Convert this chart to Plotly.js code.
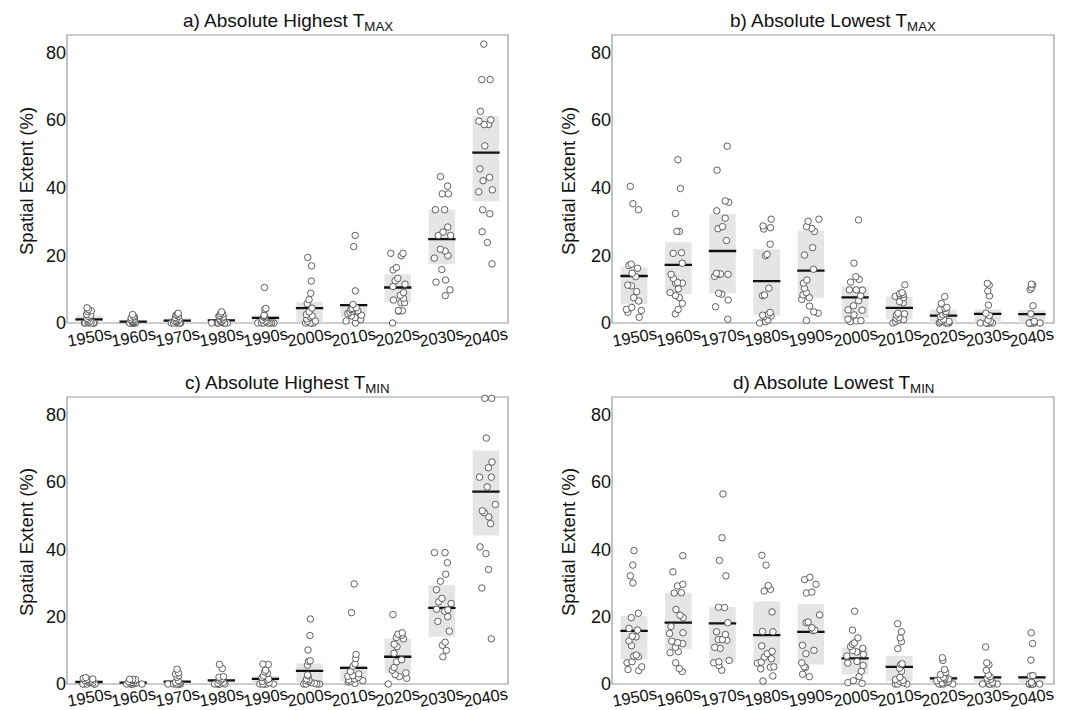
<!DOCTYPE html>
<html><head><meta charset="utf-8">
<script src="https://cdn.plot.ly/plotly-3.0.1.min.js"></script>
<style>html,body{margin:0;padding:0;background:#fff}#chart{width:1084px;height:710px}</style>
</head><body><div id="chart"></div>
<script>
const decades = ['1950s','1960s','1970s','1980s','1990s','2000s','2010s','2020s','2030s','2040s'];
const panelTitles = ['a) Absolute Highest T<sub>MAX</sub>','b) Absolute Lowest T<sub>MAX</sub>','c) Absolute Highest T<sub>MIN</sub>','d) Absolute Lowest T<sub>MIN</sub>'];
const yTitle = 'Spatial Extent (%)';
const yTicks = [0,20,40,60,80];

// a) Absolute Highest TMAX: model values per decade
const aPoints = [
 [4.5,4.0,3.6,3.4,2.6,2.3,2.0,1.8,1.4,1.0,0.6,0.3,0,0,0,0,0,0],
 [2.5,2.0,1.8,1.5,1.2,1.0,0.8,0.6,0.5,0.3,0.2,0,0,0,0,0,0],
 [2.9,2.5,2.3,2.0,1.6,1.3,1.1,0.8,0.6,0.4,0.2,0,0,0,0,0,0],
 [3.3,2.8,2.6,2.2,2.0,1.8,1.5,1.2,1.0,0.8,0.5,0.3,0,0,0,0,0,0],
 [10.5,4.3,4.0,2.3,2.2,2.0,1.8,1.5,1.0,0.6,0.4,0,0,0,0,0,0,0],
 [19.4,16.9,12.4,8.8,6.9,5.7,4.4,3.3,2.5,2.1,1.8,1.2,0.6,0.5,0,0,0,0],
 [25.9,22.6,9.5,5.5,4.5,4.3,4.2,4.0,3.6,3.5,3.2,2.8,2.3,2.1,1.6,1.0,0.6,0],
 [20.6,20.6,19.9,16.4,15.7,13.2,12.5,11.5,10.8,9.0,8.2,7.3,6.8,6.0,6.0,3.7,3.6,3.5,0],
 [43.3,40.5,38.2,38.2,33.5,33.5,28.4,26.9,25.9,25.9,21.8,21.3,19.9,19.2,15.8,12.7,12.1,9.8,8.1],
 [82.5,72,72,62.6,60.1,59.7,58.7,58.7,52.4,45.6,43.1,42.1,39.4,38.8,33.5,32.3,27,23.8,17.5]
];
const aLow  = [0,0,0,0,0,0.2,1.8,6.2,17.4,36.0];
const aHigh = [2.2,0.7,1.3,1.2,2.2,6.2,5.7,14.4,33.5,61.2];
const aMid  = [1.1,0.4,0.7,0.8,1.5,4.4,5.3,10.5,24.8,50.4];

// b) Absolute Lowest TMAX
const bPoints = [
 [40.4,35.3,33.5,17.4,17.0,16.2,14.7,13.7,11.2,11.0,9.3,7.5,6.5,4.6,4.0,3.7,3.2,1.7],
 [48.3,39.8,32.4,27.1,27.1,20.8,20.6,17.7,14.4,13.2,12.0,11.8,11.8,10.1,9.0,8.1,7.5,5.8,4.0,2.7],
 [52.3,45.2,36.1,35.7,33.2,31.0,28.5,27.9,24.4,14.7,14.5,14.4,14.4,13.8,8.8,8.5,6.8,4.8,1.1],
 [30.7,28.7,28.2,27.8,23.3,20.3,19.9,10.3,8.3,8.1,3.1,2.6,2.3,2.1,1.9,0.9,0.4,0],
 [30.7,30.1,28.5,28.0,27.1,22.3,20.1,15.9,12.7,11.8,10.3,9.0,8.3,7.5,7.0,5.0,3.3,2.9,0.8],
 [30.5,17.7,13.7,12.9,12.1,9.8,9.8,9.7,8.1,6.6,5.1,3.9,3.8,2.4,1.1,0.7,0.6,0.4],
 [11.3,9.0,8.7,8.4,8.2,7.9,7.5,6.3,6.0,2.9,2.7,2.4,1.7,1.4,1.0,0.9,0.4,0],
 [7.8,5.8,4.6,4.3,3.9,3.4,2.9,2.4,1.9,1.1,0.7,0.5,0.3,0,0,0,0],
 [11.7,11.2,9.5,8.0,5.3,2.9,2.2,0.9,0.5,0,0,0,0,0,0],
 [11.5,11.3,10.4,9.9,5.1,2.7,0.5,0,0,0,0,0,0]
];
const bLow  = [5.6,8.6,8.8,2.2,7.5,1.4,1.1,0,0,0];
const bHigh = [16.5,23.9,32.2,21.8,27.3,10.8,7.8,4.0,4.0,3.8];
const bMid  = [13.9,17.2,21.3,12.4,15.5,7.6,4.5,2.2,2.7,2.6];

// c) Absolute Highest TMIN
const cPoints = [
 [1.9,1.7,1.5,1.4,1.2,1.0,0.9,0.7,0.5,0.3,0,0,0,0,0],
 [1.4,1.4,1.3,1.2,1.0,0.7,0.5,0.4,0.2,0,0,0,0,0],
 [4.4,3.3,3.0,2.5,2.0,1.0,0.5,0,0,0,0,0,0],
 [5.8,4.6,2.2,2.0,1.6,1.2,0.9,0.5,0.2,0,0,0,0,0],
 [5.9,5.8,4.1,3.6,3.2,2.4,1.9,1.5,1.2,0.8,0.4,0,0,0,0,0],
 [19.3,14.4,10.1,6.9,6.7,5.6,2.7,2.4,1.5,1.2,1.0,0.8,0.4,0.2,0,0,0,0],
 [29.7,21.2,8.8,7.6,6.0,5.3,3.7,3.0,2.5,2.3,2.0,1.5,1.2,1.0,0.8,0.6,0.2],
 [20.6,15.2,14.8,14.5,13.8,13.4,11.8,11.1,9.1,7.2,6.6,4.9,4.1,3.3,2.8,2.2,1.7,0],
 [39.0,39.0,36.0,32.6,30.5,28.0,25.4,24.4,23.9,22.2,22.0,21.6,20.0,18.6,15.7,12.4,11.5,10.0,8.1],
 [84.8,84.8,73.0,65.9,64.2,61.4,61.4,58.5,53.3,51.4,50.9,49.6,47.6,40.7,38.7,34.0,28.5,13.4]
];
const cLow  = [0,0,0,0,0,0.5,0.9,3.2,14.0,44.1];
const cHigh = [1.0,0.6,1.0,1.4,2.4,6.1,5.4,13.5,29.3,69.3];
const cMid  = [0.6,0.4,0.7,1.1,1.5,3.9,4.8,8.1,22.6,57.1];

// d) Absolute Lowest TMIN
const dPoints = [
 [39.6,35.3,32.1,30.0,21.0,19.7,16.5,16.0,14.2,14.0,12.8,11.4,8.6,8.3,8.1,6.6,6.3,5.1,4.3,4.0],
 [38.1,33.3,29.6,29.1,27.1,27.0,22.1,20.4,19.7,17.1,15.2,15.0,12.7,12.3,12.0,10.9,9.6,9.3,6.3,4.6,3.7],
 [56.4,43.4,36.7,32.1,22.8,22.7,18.2,15.5,14.7,13.2,13.2,13.0,10.9,10.6,7.0,6.6,6.3,5.5,4.1],
 [38.2,35.3,29.2,28.1,27.6,21.4,15.6,15.5,11.3,9.7,9.0,8.0,7.5,6.5,6.2,5.1,5.0,4.5,2.4,0.9],
 [31.7,31.0,29.6,27.3,27.0,20.5,18.4,18.2,16.7,16.0,15.8,11.5,10.0,9.0,6.3,5.1,4.9,2.9,2.2],
 [21.6,16.0,13.7,12.2,11.8,11.1,10.6,10.0,9.5,8.8,8.3,6.7,6.2,5.5,3.8,2.2,1.0,0.4,0.2],
 [17.9,15.5,13.7,12.6,10.5,6.0,5.8,4.7,3.8,2.0,1.3,1.1,0.8,0.4,0,0,0],
 [7.8,7.0,4.3,3.4,2.8,2.0,1.8,1.6,1.5,1.3,1.0,0.8,0.5,0.3,0,0,0,0],
 [11.0,6.3,5.7,4.1,2.7,2.2,1.7,1.4,1.0,0.5,0,0,0,0,0],
 [15.2,12.0,7.1,2.5,2.4,0.5,0,0,0,0,0,0]
];
const dLow  = [7.3,10.4,6.6,5.8,5.8,2.9,0.8,0,0,0];
const dHigh = [20.2,27.1,22.8,24.5,23.7,10.8,8.3,2.2,2.3,2.4];
const dMid  = [15.8,18.2,18.0,14.5,15.5,7.6,5.1,1.7,2.0,2.0];

const FONT = 'Liberation Sans, Arial, sans-serif';
const panels = [
  {pts:aPoints, lo:aLow, hi:aHigh, mid:aMid, x:'x',  y:'y'},
  {pts:bPoints, lo:bLow, hi:bHigh, mid:bMid, x:'x2', y:'y2'},
  {pts:cPoints, lo:cLow, hi:cHigh, mid:cMid, x:'x3', y:'y3'},
  {pts:dPoints, lo:dLow, hi:dHigh, mid:dMid, x:'x4', y:'y4'}
];
const LINE_HALF = 0.34; // half thickness of the mean line, data units

const traces = [];
panels.forEach(p => {
  traces.push({type:'bar', x:decades, base:p.lo, y:p.hi.map((h,i)=>h-p.lo[i]), width:0.6,
    marker:{color:'#e5e5e5', line:{width:0}}, xaxis:p.x, yaxis:p.y, hoverinfo:'skip', showlegend:false});
  traces.push({type:'bar', x:decades, base:p.mid.map(m=>m-LINE_HALF), y:p.mid.map(()=>2*LINE_HALF), width:0.62,
    marker:{color:'#111', line:{width:0}}, xaxis:p.x, yaxis:p.y, hoverinfo:'skip', showlegend:false});
  const xs = [], ys = [];
  p.pts.forEach((arr,i) => arr.forEach(v => { xs.push(decades[i]); ys.push(v); }));
  traces.push({type:'box', x:xs, y:ys, boxpoints:'all', jitter:0.75, pointpos:0, width:0.6,
    fillcolor:'rgba(0,0,0,0)', line:{color:'rgba(0,0,0,0)', width:0}, whiskerwidth:0,
    marker:{size:6.5, color:'#ffffff', line:{color:'#3a3a3a', width:0.8}},
    xaxis:p.x, yaxis:p.y, hoverinfo:'y', showlegend:false});
});

// pixel geometry -> domains
const W = 1084, H = 710;
const colX = [[67,508],[612,1054]];
const rowY = [[30.6,327.4],[392.6,688.4]];
const titleY = [22, 384];
const tickLabelY = [337, 697];
const yTitleX = [26, 568];
const yTitleY = [181, 542];
const yr = [-1.3, 86.5];
const layout = {
  width:W, height:H, margin:{l:0,r:0,t:0,b:0}, paper_bgcolor:'#fff', plot_bgcolor:'#fff',
  barmode:'overlay', boxmode:'overlay', showlegend:false,
  font:{family:FONT, color:'#111'}, shapes:[], annotations:[]
};
panels.forEach((p,k) => {
  const col = k%2, row = Math.floor(k/2);
  const c = colX[col], r = rowY[row];
  const xk = k===0 ? 'xaxis' : 'xaxis'+(k+1);
  const yk = k===0 ? 'yaxis' : 'yaxis'+(k+1);
  layout[xk] = {domain:[c[0]/W, c[1]/W], anchor:p.y, type:'category', categoryorder:'array', categoryarray:decades,
    range:[-0.5,9.5], showticklabels:false, showline:false, showgrid:false, zeroline:false, ticks:'', fixedrange:true};
  layout[yk] = {domain:[1-r[1]/H, 1-r[0]/H], anchor:p.x, range:yr, tickvals:yTicks, tickfont:{size:18, color:'#111'},
    showline:false, showgrid:false, zeroline:false, ticks:'', fixedrange:true};
  layout.shapes.push({type:'rect', xref:p.x+' domain', yref:p.y, x0:0, x1:1, y0:0, y1:85.2,
    line:{color:'#999', width:1.2}, fillcolor:'rgba(0,0,0,0)', layer:'below'});
  layout.annotations.push({text:panelTitles[k], xref:'paper', yref:'paper', x:(c[0]+c[1])/2/W,
    y:1-titleY[row]/H, xanchor:'center', yanchor:'middle', showarrow:false, font:{size:19, color:'#111'}});
  layout.annotations.push({text:yTitle, xref:'paper', yref:'paper', x:yTitleX[col]/W, y:1-yTitleY[row]/H,
    xanchor:'center', yanchor:'middle', textangle:-90, showarrow:false, font:{size:18.5, color:'#111'}});
  decades.forEach(d => {
    layout.annotations.push({text:d, xref:p.x, yref:'paper', x:d, y:1-tickLabelY[row]/H,
      xanchor:'center', yanchor:'middle', textangle:-10, showarrow:false, font:{size:16.5, color:'#111'}});
  });
});
Plotly.newPlot('chart', traces, layout, {staticPlot:true});
</script></body></html>
